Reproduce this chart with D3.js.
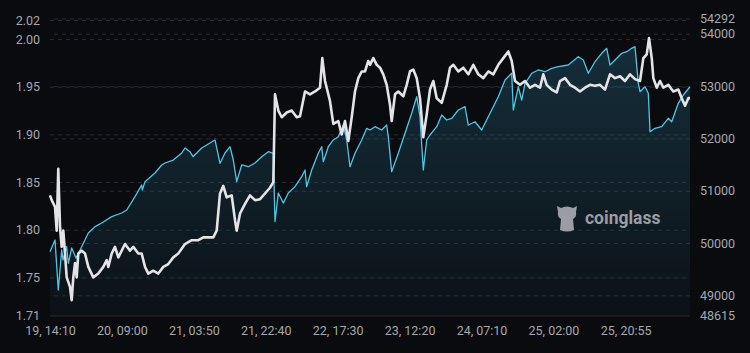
<!DOCTYPE html>
<html>
<head>
<meta charset="utf-8">
<script src="https://cdn.jsdelivr.net/npm/d3@7"></script>
<style>
  html, body { margin: 0; padding: 0; background: #0a0b0f; }
  svg { display: block; }
</style>
</head>
<body>
<svg id="chart" width="750" height="353"></svg>
<script>
// ---- data (hours since "19, 14:10") ----
const priceHours = [0,1.31,2.17,3.06,3.4,4.37,4.8,5.68,6.81,8.3,10.03,11.78,13.54,16.16,18.78,20.09,22.26,24.01,24.17,24.88,27.5,29.25,30.12,32.29,34.49,35.35,36.66,37.45,39.73,41.9,43.21,44.52,45.83,47.14,48.0,48.89,50.2,51.93,53.68,55.44,57.17,58.48,58.92,59.79,61.1,62.4,64.16,65.91,66.78,67.22,68.53,70.26,71.15,71.57,72.88,74.19,75.5,76.81,77.7,78.56,79.87,81.63,82.94,83.8,85.11,86.86,88.17,88.59,89.48,91.21,92.97,94.72,96.03,96.89,97.76,98.65,99.51,101.27,102.58,103.89,105.2,106.93,108.68,109.54,111.3,113.05,114.78,117.4,119.16,120.91,121.33,122.64,123.53,124.39,126.15,127.87,129.63,131.38,133.11,135.73,138.35,139.66,140.97,142.72,144.48,145.79,146.65,147.96,149.72,151.02,152.33,153.2,154.06,154.51,155.82,156.68,157.13,158.44,160.19,161.92,162.81,164.54,165.85,167.6];
const priceValues = [49835,50058,49103,49867,49676,49930,49613,49905,49714,49930,50192,50313,50383,50504,50574,50632,50886,51110,51014,51173,51339,51492,51530,51587,51721,51817,51746,51650,51817,51912,51970,51524,51721,51842,51587,51173,51492,51459,51530,51650,51746,51715,50408,50957,50765,50957,51077,51268,51396,51077,51396,51715,51842,51555,51842,51970,52033,52256,51970,51459,51715,51970,52193,52161,52224,52161,52256,52033,51364,51715,52098,52480,52797,52415,51396,51970,52065,52224,52447,52352,52384,52543,52606,52256,52319,52161,52415,52797,53116,53245,52543,52988,52734,53053,53245,53308,53275,53340,53371,53403,53562,53499,53245,53466,53627,53722,53403,53499,53627,53657,53722,53753,53053,52893,52988,52862,52128,52193,52224,52384,52319,52671,52830,52988];

const ratioHours = [0,0.45,1.31,1.75,2.17,2.62,3.06,3.48,3.93,4.37,5.24,5.68,6.1,6.55,6.99,7.41,8.3,9.17,10.03,11.34,12.65,13.96,14.85,15.27,16.16,17.02,17.89,18.78,19.64,20.95,21.81,23.12,24.01,24.88,25.74,27.05,28.36,29.67,30.98,32.29,33.6,35.35,37.11,38.84,40.15,41.9,42.76,43.65,44.52,45.38,46.27,47.58,48.45,48.89,49.76,51.07,52.37,53.68,55.0,56.3,57.61,58.48,58.92,59.79,60.68,61.99,63.3,64.61,65.47,66.78,68.09,69.4,70.71,71.31,72.02,73.32,74.19,75.5,76.39,77.25,78.12,79.01,79.87,80.74,81.63,82.49,83.35,83.8,84.66,85.55,86.42,87.28,88.17,89.04,89.48,90.35,91.21,92.52,93.41,94.27,95.14,96.03,96.89,97.76,98.65,99.51,100.38,101.27,102.58,103.89,104.75,105.62,106.93,108.23,109.54,110.85,112.16,113.47,114.78,116.09,117.4,118.71,120.02,120.91,121.77,123.08,124.39,125.7,127.01,128.32,129.18,130.07,131.38,132.69,133.56,134.87,136.17,137.48,138.79,140.1,141.41,142.72,144.03,145.34,146.65,147.96,149.27,150.58,151.89,153.2,154.51,155.38,156.27,156.87,157.58,158.0,158.89,159.75,160.62,161.92,163.23,164.54,165.43,166.3,167.16,167.6];
const ratioValues = [1.836,1.831,1.824,1.799,1.864,1.803,1.782,1.799,1.775,1.750,1.740,1.726,1.750,1.765,1.750,1.775,1.778,1.775,1.761,1.750,1.754,1.761,1.768,1.761,1.775,1.782,1.771,1.778,1.785,1.778,1.782,1.775,1.775,1.761,1.754,1.757,1.754,1.761,1.764,1.771,1.775,1.785,1.789,1.789,1.792,1.792,1.792,1.799,1.838,1.846,1.834,1.836,1.810,1.799,1.817,1.827,1.836,1.831,1.832,1.838,1.844,1.850,1.942,1.925,1.918,1.923,1.925,1.918,1.919,1.945,1.942,1.945,1.949,1.980,1.956,1.935,1.911,1.914,1.900,1.914,1.893,1.918,1.945,1.959,1.966,1.966,1.977,1.973,1.980,1.973,1.970,1.963,1.952,1.931,1.914,1.942,1.945,1.940,1.952,1.966,1.968,1.959,1.938,1.897,1.921,1.947,1.956,1.938,1.933,1.952,1.970,1.973,1.966,1.970,1.963,1.973,1.963,1.959,1.966,1.963,1.973,1.980,1.987,1.977,1.956,1.952,1.956,1.949,1.952,1.949,1.963,1.952,1.947,1.944,1.956,1.959,1.952,1.949,1.945,1.949,1.952,1.951,1.952,1.947,1.963,1.959,1.961,1.956,1.963,1.958,1.956,1.980,1.984,2.001,1.980,1.959,1.949,1.956,1.949,1.952,1.945,1.947,1.938,1.930,1.938,1.938];

const xTickHours  = [0, 18.833, 37.667, 56.5, 75.333, 94.167, 113, 131.833, 150.75];
const xTickLabels = ["19, 14:10","20, 09:00","21, 03:50","21, 22:40","22, 17:30","23, 12:20","24, 07:10","25, 02:00","25, 20:55"];
const leftTicks  = [1.71, 1.75, 1.80, 1.85, 1.90, 1.95, 2.00, 2.02];
const rightTicks = [48615, 49000, 50000, 51000, 52000, 53000, 54000, 54292];
const leftDomain  = [1.71, 2.02];
const rightDomain = [48615, 54292];
const timeDomain  = [0, 167.6];

// ---- layout ----
const X0 = 50, X1 = 690, YT = 19, YB = 315.5;
const svg = d3.select("#chart");
const x  = d3.scaleLinear().domain(timeDomain).range([X0, X1]);
const yL = d3.scaleLinear().domain(leftDomain).range([YB, YT + 1]);
const yR = d3.scaleLinear().domain(rightDomain).range([YB, YT - 0.5]);

const price = priceHours.map((h, i) => ({ h, v: priceValues[i] }));
const ratio = ratioHours.map((h, i) => ({ h, v: ratioValues[i] }));

svg.append("rect").attr("width", 750).attr("height", 353).attr("fill", "#0a0b0f");

const defs = svg.append("defs");
const grad = defs.append("linearGradient").attr("id", "areaGrad")
  .attr("gradientUnits", "userSpaceOnUse").attr("x1", 0).attr("x2", 0).attr("y1", 45).attr("y2", YB);
grad.append("stop").attr("offset", 0).attr("stop-color", "rgb(50,140,175)").attr("stop-opacity", 0.27);
grad.append("stop").attr("offset", 1).attr("stop-color", "rgb(50,140,175)").attr("stop-opacity", 0.05);

const fontFam = "Roboto, 'DejaVu Sans', sans-serif";
const textCol = "#a4a7ad";
const gridCol = "#272b33";

// grid + axes (left)
const gL = svg.append("g").attr("transform", `translate(${X0},0)`)
  .call(d3.axisLeft(yL).tickValues(leftTicks).tickSize(-(X1 - X0)).tickPadding(10)
    .tickFormat(d => d.toFixed(2)));
// grid + axes (right)
const gR = svg.append("g").attr("transform", `translate(${X1},0)`)
  .call(d3.axisRight(yR).tickValues(rightTicks).tickSize(-(X1 - X0)).tickPadding(10)
    .tickFormat(d => String(d)));
// bottom labels
const gB = svg.append("g").attr("transform", `translate(0,${YB})`)
  .call(d3.axisBottom(x).tickValues(xTickHours).tickSize(0).tickPadding(11)
    .tickFormat((d, i) => xTickLabels[i]));

[gL, gR, gB].forEach(g => {
  g.select(".domain").remove();
  g.selectAll("line").attr("stroke", gridCol).attr("stroke-width", 1).attr("stroke-dasharray", "4,4");
  g.selectAll("text").attr("fill", textCol).attr("font-family", fontFam).attr("font-size", 12.5);
});

// area + price line
const area = d3.area().x(d => x(d.h)).y0(YB).y1(d => yR(d.v));
svg.append("path").datum(price).attr("d", area).attr("fill", "url(#areaGrad)");
const lineR = d3.line().x(d => x(d.h)).y(d => yR(d.v));
svg.append("path").datum(price).attr("d", lineR).attr("fill", "none")
  .attr("stroke", "#4cc8e4").attr("stroke-width", 1.3).attr("stroke-linejoin", "round");

// ratio line
const lineL = d3.line().x(d => x(d.h)).y(d => yL(d.v));
svg.append("path").datum(ratio).attr("d", lineL).attr("fill", "none")
  .attr("stroke", "#e4e4e8").attr("stroke-width", 2.6).attr("stroke-linejoin", "round");

// watermark
const wm = svg.append("g").attr("fill", "#9a9da3");
wm.append("path").attr("d",
  "M557,206 L561,208 Q567,205 573,208 L577,206 L576,212 Q577,217 573,219 L574,230 Q567,233 560,230 L561,219 Q557,217 558,212 Z");
wm.append("text").attr("x", 585).attr("y", 224).attr("font-family", fontFam)
  .attr("font-weight", 700).attr("font-size", 17.5).text("coinglass");
</script>
</body>
</html>
